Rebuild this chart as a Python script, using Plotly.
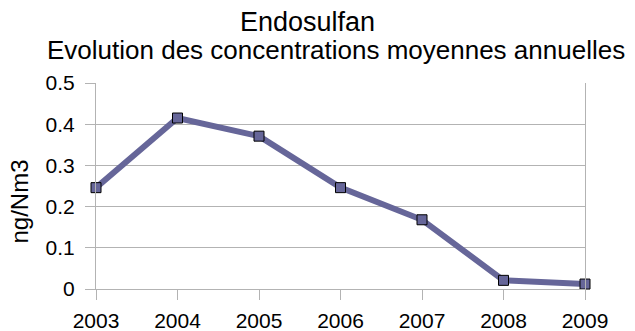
import plotly.graph_objects as go

years = ["2003", "2004", "2005", "2006", "2007", "2008", "2009"]
concentrations = [0.246, 0.415, 0.371, 0.246, 0.168, 0.021, 0.012]
y_ticks = [0, 0.1, 0.2, 0.3, 0.4, 0.5]
y_tick_labels = ["0", "0.1", "0.2", "0.3", "0.4", "0.5"]

title_text = "Endosulfan"
subtitle_text = "Evolution des concentrations moyennes annuelles"
y_title = "ng/Nm3"

W, H = 635, 331
L, R, T, B = 96, 50, 83, 42
plot_h = H - T - B
plot_w = W - L - R

def py(pixel_y):
    # paper y coordinate from a pixel row
    return (H - B - pixel_y) / plot_h

def px(pixel_x):
    return (pixel_x - L) / plot_w

line_color = "#666699"
grid_color = "#b3b3b3"
font = "Liberation Sans, Arial, sans-serif"

fig = go.Figure()
fig.add_trace(go.Scatter(
    x=list(range(len(years))),
    y=concentrations,
    mode="lines+markers",
    line=dict(color=line_color, width=6),
    marker=dict(symbol="square", size=10, color=line_color,
                line=dict(color="#000000", width=1)),
    cliponaxis=False,
    showlegend=False,
))

fig.update_layout(
    width=W, height=H,
    margin=dict(l=L, r=R, t=T, b=B, pad=0, autoexpand=False),
    paper_bgcolor="white",
    plot_bgcolor="white",
    font=dict(family=font, color="#000000", size=21),
    xaxis=dict(
        range=[0, len(years) - 1],
        tickmode="array",
        tickvals=list(range(len(years))),
        ticktext=years,
        showgrid=False,
        zeroline=False,
        showline=True,
        linecolor=grid_color,
        linewidth=1,
        ticks="outside",
        ticklen=10,
        tickcolor=grid_color,
        tickwidth=1,
        ticklabelstandoff=3,
        tickfont=dict(size=21),
        automargin=False,
    ),
    yaxis=dict(
        range=[0, 0.5],
        tickmode="array",
        tickvals=y_ticks,
        ticktext=y_tick_labels,
        showgrid=True,
        gridcolor=grid_color,
        gridwidth=1,
        zeroline=False,
        showline=True,
        mirror=True,
        linecolor=grid_color,
        linewidth=1,
        ticks="outside",
        ticklen=10,
        tickcolor=grid_color,
        tickwidth=1,
        ticklabelstandoff=6,
        tickfont=dict(size=21),
        automargin=False,
    ),
    annotations=[
        dict(text=title_text, xref="paper", yref="paper",
             x=px(307.5), y=py(22), xanchor="center", yanchor="middle",
             showarrow=False, font=dict(size=27)),
        dict(text=subtitle_text, xref="paper", yref="paper",
             x=px(336), y=py(50), xanchor="center", yanchor="middle",
             showarrow=False, font=dict(size=26)),
        dict(text=y_title, xref="paper", yref="paper",
             x=px(18.5), y=py(202), xanchor="center", yanchor="middle",
             textangle=-90, showarrow=False, font=dict(size=24)),
    ],
)

fig.write_html("out.html")
